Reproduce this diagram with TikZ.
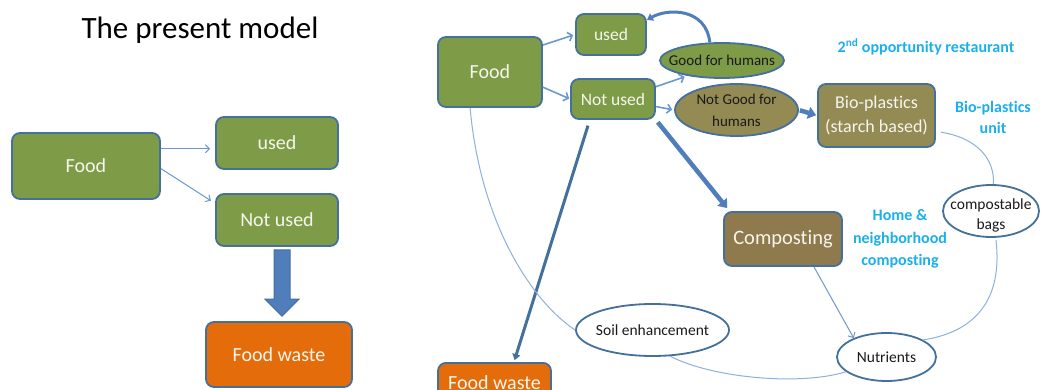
\documentclass[tikz,border=0pt]{standalone}
\usepackage{fontspec}
\setmainfont{Carlito}[Ligatures=CommonOff]
\usetikzlibrary{shapes.geometric,arrows.meta,calc}
\definecolor{oliveg}{HTML}{7E9B47}
\definecolor{khaki}{HTML}{948A54}
\definecolor{brownc}{HTML}{8E7A4C}
\definecolor{orangec}{HTML}{E46C0A}
\definecolor{bordc}{HTML}{44709C}
\definecolor{thinc}{HTML}{8EB0DC}
\definecolor{arrc}{HTML}{6C98CF}
\definecolor{thickc}{HTML}{4F7EBA}
\definecolor{cyanc}{HTML}{1BB0EC}
\definecolor{boxtxt}{HTML}{F6F6EE}
\definecolor{txtdark}{HTML}{1A1A1A}
\begin{document}
\begin{tikzpicture}[x=1pt,y=-1pt,
  box/.style={draw=bordc, line width=1.8pt, rounded corners=8pt, text=boxtxt, inner sep=0pt, align=center},
  gbox/.style={box, fill=oliveg},
  ell/.style={ellipse, draw=bordc, line width=1.8pt, inner sep=0pt},
  elltxt/.style={text=txtdark, align=center, inner sep=0pt, font=\fontsize{15.5}{20}\selectfont},
  fs20/.style={font=\fontsize{20}{24}\selectfont},
  fs17/.style={font=\fontsize{17.5}{24}\selectfont},
  cyantxt/.style={text=cyanc, align=center, font=\bfseries\fontsize{16}{22}\selectfont, inner sep=0pt},
  thinline/.style={draw=thinc, line width=1pt},
  thinarr/.style={draw=arrc, line width=1pt, -{Straight Barb[length=4pt,width=8pt]}},
  medarr/.style={draw=arrc, line width=1.6pt, -{Straight Barb[length=4pt,width=9pt]}},
  thickarr/.style={draw=thickc, line width=4.5pt, -{Triangle[length=8pt,width=12pt]}},
  midarr/.style={draw=thickc, line width=3pt, -{Triangle[length=6pt,width=8pt]}}
]
\clip (0,0) rectangle (1044,390);
\fill[white] (0,0) rectangle (1044,390);

% ---------- left: present model ----------
\node[font=\fontsize{31}{36}\selectfont, text=black] (title) at (200,30) {The present model};
\node[gbox, fs20, minimum width=148pt, minimum height=66pt] (lfood) at (86,166) {Food};
\node[gbox, fs20, minimum width=122pt, minimum height=52pt] (lused) at (277,143) {used};
\node[gbox, fs20, minimum width=122pt, minimum height=52pt] (lnot) at (277,220) {Not used};
\node[box, fill=orangec, fs20, minimum width=146pt, minimum height=65pt] (lwaste) at (279,354.5) {Food waste};

\draw[thinarr, shorten >=5pt] (lfood.13) -- (lused.west |- lfood.13);
\draw[thinarr, shorten >=5pt] (lfood.-2) -- (lnot.165);

\coordinate (bat) at ($(lnot.south)+(5,3)$);
\coordinate (bab) at ($(lwaste.north)+(3,-5)$);
\filldraw[fill=thickc, draw=bordc, line width=1pt]
  ($(bat)+(-8,0)$) -- ($(bat)+(8,0)$) -- ($(bab)+(8,-17)$) -- ($(bab)+(17,-17)$) --
  (bab) -- ($(bab)+(-17,-17)$) -- ($(bab)+(-8,-17)$) -- cycle;

% ---------- right: proposed model ----------
\node[gbox, fs20, minimum width=104pt, minimum height=70pt] (rfood) at (490,72) {Food};
\node[gbox, fs17, minimum width=70pt, minimum height=41pt] (rused) at (611,34.5) {used};
\node[gbox, fs17, minimum width=84pt, minimum height=40pt] (rnot) at (613,99) {Not used};

\node[ell, fill=oliveg, minimum width=124pt, minimum height=35pt] (good) at (722,60.5) {};
\node[elltxt, font=\fontsize{15}{20}\selectfont] (goodt) at (good.center) {Good for humans};
\node[ell, fill=khaki, minimum width=123pt, minimum height=52pt] (notgood) at (736.5,110) {};
\node[elltxt, font=\fontsize{15}{22}\selectfont] (notgoodt) at (notgood.center) {Not Good for\\humans};

\node[box, fill=khaki, font=\fontsize{18}{24}\selectfont, minimum width=117pt, minimum height=63pt] (bio) at (876.5,115.5) {Bio-plastics\\(starch based)};
\node[box, fill=brownc, font=\fontsize{20.5}{24}\selectfont, minimum width=118pt, minimum height=54pt] (comp) at (783,239) {Composting};

\node[ell, fill=white, minimum width=96pt, minimum height=52pt] (bags) at (991,211) {};
\node[elltxt] (bagst) at ($(bags.center)+(0,4)$) {compostable\\bags};
\node[ell, fill=white, minimum width=99pt, minimum height=48pt] (nutr) at (886.5,357) {};
\node[elltxt] (nutrt) at (nutr.center) {Nutrients};
\node[ell, fill=white, minimum width=153pt, minimum height=52pt] (soil) at (652.5,330) {};
\node[elltxt] (soilt) at (soil.center) {Soil enhancement};

\node[box, fill=orangec, fs20, minimum width=113pt, minimum height=48pt, anchor=north] (rwaste) at (494.5,362) {\raisebox{9pt}{Food waste}};

\node[cyantxt] (opp) at (926,47) {2\textsuperscript{nd} opportunity restaurant};
\node[cyantxt, font=\bfseries\fontsize{16}{21}\selectfont] (bunit) at (993,117) {Bio-plastics\\unit};
\node[cyantxt, font=\bfseries\fontsize{16}{22.5}\selectfont] (home) at (900,239) {Home \&\\neighborhood\\composting};

% connectors
\draw[medarr, shorten >=2pt] (rfood.27) -- (rused.west);
\draw[medarr, shorten >=1pt] (rfood.-16) -- (rnot.west);
\draw[medarr, shorten >=3pt] (rnot.16) -- (good.204);
\draw[medarr, shorten >=2pt] (rnot.-10) -- (notgood.west);

\draw[midarr] (good.124) .. controls (706,8) and (668,8) .. (rused.22);
\draw[thickarr, shorten <=1pt, shorten >=1pt] (notgood.east) -- (bio.west);
\draw[thickarr, shorten <=3pt] (rnot.south east) -- ($(comp.north west)+(4,-3)$);
\draw[midarr, draw=bordc, shorten <=6pt, shorten >=2pt] (rnot.222) -- (rwaste.52);

\draw[thinline] (rfood.241) .. controls (480,220) and (530,300) .. (soil.west);
\draw[thinline] (soil.-56) .. controls (712,378) and (800,386) .. (nutr.200);
\draw[thinarr] (comp.-42) -- (nutr.150);
\draw[thinline, shorten <=5pt] (bio.-15) .. controls (978,138) and (995,160) .. (bags.85);
\draw[thinline, shorten <=2pt] (bags.-80) .. controls (1003,300) and (975,332) .. (nutr.25);
\end{tikzpicture}
\end{document}
